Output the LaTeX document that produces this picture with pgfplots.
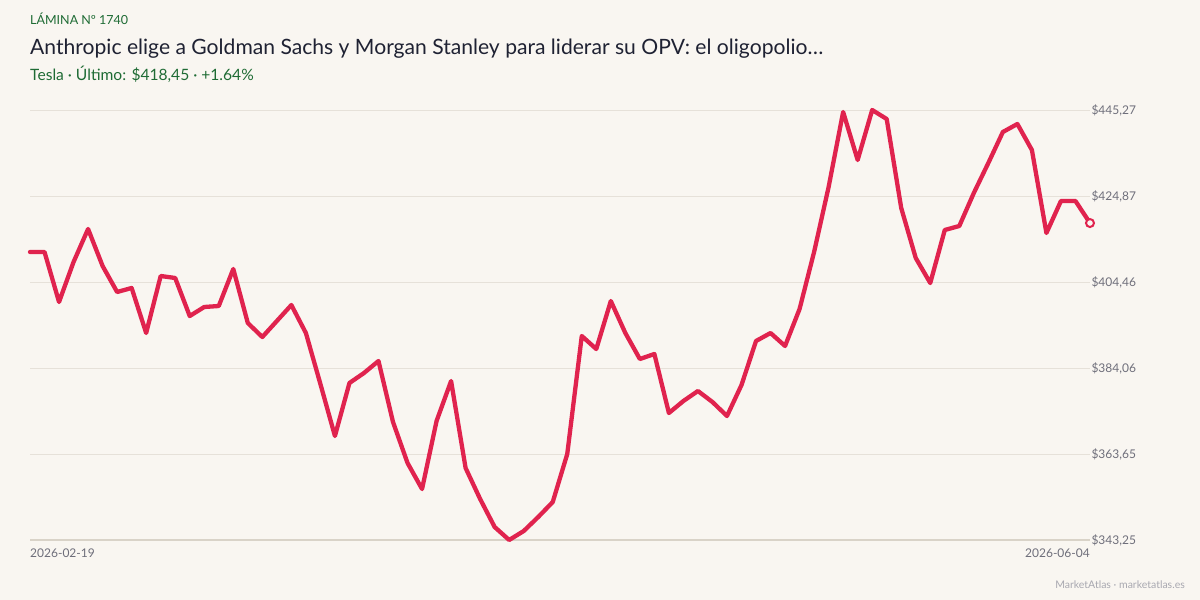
\documentclass[border=0pt]{standalone}
\usepackage{fontspec}
\setmainfont{Lato}
\usepackage{pgfplots}
\usepackage{pgfplotstable}
\pgfplotsset{compat=1.18}
\definecolor{bg}{HTML}{F9F6F1}
\definecolor{linec}{HTML}{E0234E}
\definecolor{gridc}{HTML}{E6E1D9}
\definecolor{axisc}{HTML}{D9D3C8}
\definecolor{greenc}{HTML}{1E6B34}
\definecolor{titlec}{HTML}{1F2233}
\definecolor{tickc}{HTML}{6E6E7A}
\definecolor{footc}{HTML}{A8A8B0}
\pgfplotstableread{
i v
0 411.58
1 411.58
2 399.72
3 409.21
4 417.04
5 408.26
6 402.09
7 403.04
8 392.36
9 405.89
10 405.41
11 396.39
12 398.53
13 398.77
14 407.55
15 394.73
16 391.41
17 395.21
18 399.00
19 392.36
20 380.26
21 367.92
22 380.50
23 382.87
24 385.72
25 371.24
26 361.52
27 355.35
28 371.48
29 380.97
30 360.33
31 352.98
32 346.33
33 343.25
34 345.38
35 348.70
36 352.26
37 363.65
38 391.65
39 388.56
40 399.95
41 392.36
42 386.19
43 387.38
44 373.38
45 376.23
46 378.60
47 375.99
48 372.67
49 380.02
50 390.46
51 392.36
52 389.28
53 398.06
54 411.58
55 427.00
56 444.80
57 433.41
58 445.27
59 443.13
60 422.02
61 410.16
62 404.22
63 416.80
64 417.75
65 425.58
66 432.70
67 440.05
68 441.95
69 435.78
70 416.09
71 423.68
72 423.68
73 418.45
}\prices
\begin{document}
\begin{tikzpicture}
\fill[bg] (0pt,0pt) rectangle (1200pt,600pt);
\node[anchor=base west, inner sep=0pt, font=\fontsize{12.5}{14}\selectfont, text=greenc] at (30pt,575pt) {LÁMINA Nº 1740};
\node[anchor=base west, inner sep=0pt, font=\fontsize{21.1}{25}\selectfont, text=titlec] at (30pt,545pt) {Anthropic elige a Goldman Sachs y Morgan Stanley para liderar su OPV: el oligopolio…};
\node[anchor=base west, inner sep=0pt, font=\fontsize{15.6}{18}\selectfont, text=greenc] at (30pt,519pt) {Tesla · Último: \$418,45 · +1.64\%};
\node[anchor=base east, inner sep=0pt, font=\fontsize{10.5}{12}\selectfont, text=footc] at (1185pt,12pt) {MarketAtlas · marketatlas.es};
\begin{axis}[
  at={(30pt,60pt)}, anchor=south west,
  width=1060pt, height=430pt, scale only axis,
  xmin=0, xmax=73, ymin=343.25, ymax=445.27,
  axis line style={draw=none},
  xtick=\empty,
  ytick={343.25,363.65,384.06,404.46,424.87,445.27},
  yticklabels={{\$343,25},{\$363,65},{\$384,06},{\$404,46},{\$424,87},{\$445,27}},
  yticklabel pos=right,
  yticklabel style={font=\fontsize{12}{14}\selectfont, text=tickc, anchor=west, xshift=-2pt},
  major tick length=0pt,
  ymajorgrids, grid style={gridc, line width=0.8pt},
  clip=false,
]
\draw[axisc, line width=1pt] (rel axis cs:0,0) -- (rel axis cs:1,0);
\addplot[linec, line width=4.3pt, line join=round, line cap=round] table[x=i,y=v] {\prices};
\addplot[only marks, mark=*, mark size=4pt, mark options={fill=bg, draw=linec, line width=2pt}] coordinates {(73,418.45)};
\node[anchor=north west, inner sep=0pt, font=\fontsize{12}{14}\selectfont, text=tickc] at (rel axis cs:0,0) [yshift=-9pt] {2026-02-19};
\node[anchor=north east, inner sep=0pt, font=\fontsize{12}{14}\selectfont, text=tickc] at (rel axis cs:1,0) [yshift=-9pt] {2026-06-04};
\end{axis}
\end{tikzpicture}
\end{document}
